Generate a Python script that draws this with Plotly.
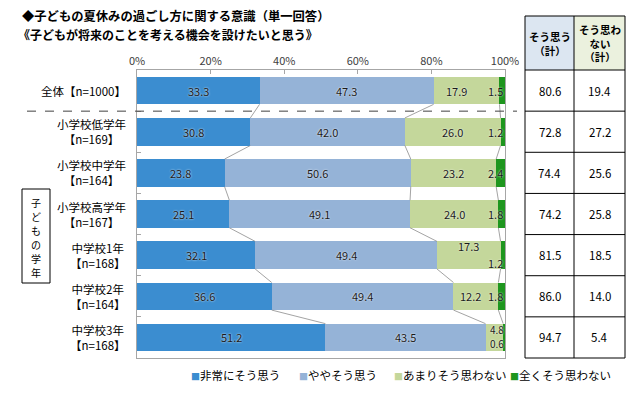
import plotly.graph_objects as go

# ---------------- data ----------------
row_names = ["全体【n=1000】", "小学校低学年<br>【n=169】", "小学校中学年<br>【n=164】",
             "小学校高学年<br>【n=167】", "中学校1年<br>【n=168】", "中学校2年<br>【n=164】",
             "中学校3年<br>【n=168】"]
series_names = ["非常にそう思う", "ややそう思う", "あまりそう思わない", "全くそう思わない"]
very_yes = [33.3, 30.8, 23.8, 25.1, 32.1, 36.6, 51.2]
some_yes = [47.3, 42.0, 50.6, 49.1, 49.4, 49.4, 43.5]
not_much = [17.9, 26.0, 23.2, 24.0, 17.3, 12.2, 4.8]
not_at_all = [1.5, 1.2, 2.4, 1.8, 1.2, 1.8, 0.6]
total_yes = ["80.6", "72.8", "74.4", "74.2", "81.5", "86.0", "94.7"]
total_no = ["19.4", "27.2", "25.6", "25.8", "18.5", "14.0", "5.4"]
x_ticks = [0, 20, 40, 60, 80, 100]
x_tick_text = ["0%", "20%", "40%", "60%", "80%", "100%"]
title1 = "◆子どもの夏休みの過ごし方に関する意識（単一回答）"
title2 = "《子どもが将来のことを考える機会を設けたいと思う》"
group_label = "子どもの学年"
head_yes = "そう思う<br>（計）"
head_no = "そう思わ<br>ない<br>（計）"

colors = ["#3B8DD0", "#95B3D7", "#C4D79B", "#1E961E"]
FONT = "Noto Sans CJK JP"

# ---------------- layout geometry (pixels, page coordinates) ----------------
OFF = 8  # page body margin
W, H = 643 - OFF, 396 - OFF
L, R, T, B = 137, 505, 70, 358  # plot area in page coordinates
def px(x):
    return (x - L) / (R - L)
def py(y):
    return (B - y) / (B - T)

n = len(row_names)
ypos = list(range(n))
bw = 0.67

fig = go.Figure()
series = [very_yes, some_yes, not_much, not_at_all]
for name, vals, col in zip(series_names, series, colors):
    fig.add_trace(go.Bar(x=vals, y=ypos, orientation="h", name=name, width=bw,
                         marker=dict(color=col, line=dict(width=0)),
                         showlegend=False, hoverinfo="x+name"))

# connector lines between neighbouring bars
cums = []
acc = [0.0] * n
for vals in series[:-1]:
    acc = [a + v for a, v in zip(acc, vals)]
    cums.append(acc[:])
for c in cums:
    for i in range(n - 1):
        fig.add_trace(go.Scatter(x=[c[i], c[i + 1]], y=[i + bw / 2, i + 1 - bw / 2],
                                 mode="lines", line=dict(color="#8c8c8c", width=0.8),
                                 showlegend=False, hoverinfo="skip"))

annotations = []
lab_font = dict(family=FONT, size=11, color="#1a1a1a", shadow="0px 0px 2px white")
small_font = dict(family=FONT, size=10, color="#1a1a1a", shadow="0px 0px 2px white")

# segment labels
for i in range(n):
    s0 = 0.0
    for k, vals in enumerate(series):
        v = vals[i]
        mid = s0 + v / 2
        s0 += v
        txt = f"{v:.1f}"
        a = dict(x=mid, y=i, xref="x", yref="y", text=txt, showarrow=False,
                 font=lab_font, xanchor="center", yanchor="middle")
        if k == 3:
            a.update(x=100, xanchor="right", xshift=0)
            if i == 4:
                a.update(yshift=-8)
            if i == 6:
                a.update(yshift=-6, font=small_font, borderpad=0)
        if k == 2:
            if i == 0:
                a.update(xshift=-10)
            if i == 4:
                a.update(yshift=9)
            if i == 5:
                a.update(xshift=-5)
            if i == 6:
                a.update(x=100, xanchor="right", yshift=8, font=small_font, borderpad=0)
        annotations.append(a)

# row labels
for i, name in enumerate(row_names):
    annotations.append(dict(x=px(128), y=i, xref="paper", yref="y", text=name,
                            showarrow=False, xanchor="right", yanchor="middle", align="center",
                            font=dict(family=FONT, size=11.5, color="#000000")))

# titles
annotations.append(dict(x=px(21), y=py(16), xref="paper", yref="paper", text="<b>" + title1 + "</b>",
                        showarrow=False, xanchor="left", yanchor="middle", borderpad=0,
                        font=dict(family=FONT, size=12.3, color="#000000")))
annotations.append(dict(x=px(17), y=py(34), xref="paper", yref="paper", text="<b>" + title2 + "</b>",
                        showarrow=False, xanchor="left", yanchor="middle", borderpad=0,
                        font=dict(family=FONT, size=12, color="#000000")))

# group label (vertical, one character per line)
for j, ch in enumerate(group_label):
    annotations.append(dict(x=px(36), y=py(202 + 14 * j), xref="paper", yref="paper",
                            text=ch, showarrow=False, borderpad=0,
                            xanchor="center", yanchor="middle",
                            font=dict(family=FONT, size=10, color="#000000")))

shapes = []
shapes.append(dict(type="rect", xref="paper", yref="paper", x0=px(22), x1=px(50),
                   y0=py(189), y1=py(283), line=dict(color="#000000", width=1)))
# dashed separator between total and breakdown
sep = 1 - 1 / n
shapes.append(dict(type="line", xref="paper", yref="paper", x0=px(27), x1=px(517),
                   y0=sep, y1=sep, line=dict(color="#404040", width=1, dash="dash")))

# table
tx0, tx1, tx2 = px(525), px(574), px(625)
ty_top = py(16)
shapes.append(dict(type="rect", xref="paper", yref="paper", x0=tx0, x1=tx1, y0=1, y1=ty_top,
                   fillcolor="#DCE6F1", line=dict(width=0), layer="below"))
shapes.append(dict(type="rect", xref="paper", yref="paper", x0=tx1, x1=tx2, y0=1, y1=ty_top,
                   fillcolor="#EBF1DE", line=dict(width=0), layer="below"))
row_edges = [ty_top] + [1 - k / n for k in range(n + 1)]
for yv in row_edges:
    shapes.append(dict(type="line", xref="paper", yref="paper", x0=tx0, x1=tx2, y0=yv, y1=yv,
                       line=dict(color="#000000", width=1)))
for xv in (tx0, tx1, tx2):
    shapes.append(dict(type="line", xref="paper", yref="paper", x0=xv, x1=xv, y0=0, y1=ty_top,
                       line=dict(color="#000000", width=1)))

hdr_font = dict(family=FONT, size=10.5, color="#000000")
annotations.append(dict(x=(tx0 + tx1) / 2, y=(1 + ty_top) / 2, xref="paper", yref="paper",
                        text="<b>" + head_yes + "</b>", showarrow=False, align="center",
                        xanchor="center", yanchor="middle", font=hdr_font))
annotations.append(dict(x=(tx1 + tx2) / 2, y=(1 + ty_top) / 2, xref="paper", yref="paper",
                        text="<b>" + head_no + "</b>", showarrow=False, align="center",
                        xanchor="center", yanchor="middle", font=hdr_font))
val_font = dict(family=FONT, size=11.5, color="#000000")
for i in range(n):
    annotations.append(dict(x=(tx0 + tx1) / 2, y=i, xref="paper", yref="y", text=total_yes[i],
                            showarrow=False, xanchor="center", yanchor="middle", font=val_font))
    annotations.append(dict(x=(tx1 + tx2) / 2, y=i, xref="paper", yref="y", text=total_no[i],
                            showarrow=False, xanchor="center", yanchor="middle", font=val_font))

# legend (drawn as annotations)
leg_x = [189, 297, 392, 508]
for xx, name, col in zip(leg_x, series_names, colors):
    annotations.append(dict(x=px(xx), y=py(375), xref="paper", yref="paper",
                            text=f'<span style="color:{col};font-size:9px">■</span>{name}',
                            showarrow=False, xanchor="left", yanchor="middle",
                            font=dict(family=FONT, size=11.5, color="#000000")))

fig.update_layout(
    width=W, height=H, barmode="stack", bargap=0.33,
    margin=dict(l=L - OFF, r=643 - R, t=T - OFF, b=396 - B, pad=0),
    paper_bgcolor="white", plot_bgcolor="white",
    font=dict(family=FONT),
    showlegend=False,
    annotations=annotations, shapes=shapes,
    xaxis=dict(range=[0, 100], side="top", tickvals=x_ticks, ticktext=x_tick_text,
               showgrid=False, zeroline=False, showline=True, mirror=True,
               linecolor="#a6a6a6", linewidth=1, ticks="inside", ticklen=4,
               tickcolor="#a6a6a6", tickfont=dict(family=FONT, size=11, color="#404040"),
               fixedrange=True),
    yaxis=dict(range=[n - 0.5, -0.5], showgrid=False, zeroline=False, showline=True,
               mirror=True, linecolor="#a6a6a6", linewidth=1, ticks="inside", ticklen=4,
               tickcolor="#a6a6a6", tickvals=[k + 0.5 for k in range(n - 1)],
               showticklabels=False, fixedrange=True),
)

fig.write_html("out.html")
